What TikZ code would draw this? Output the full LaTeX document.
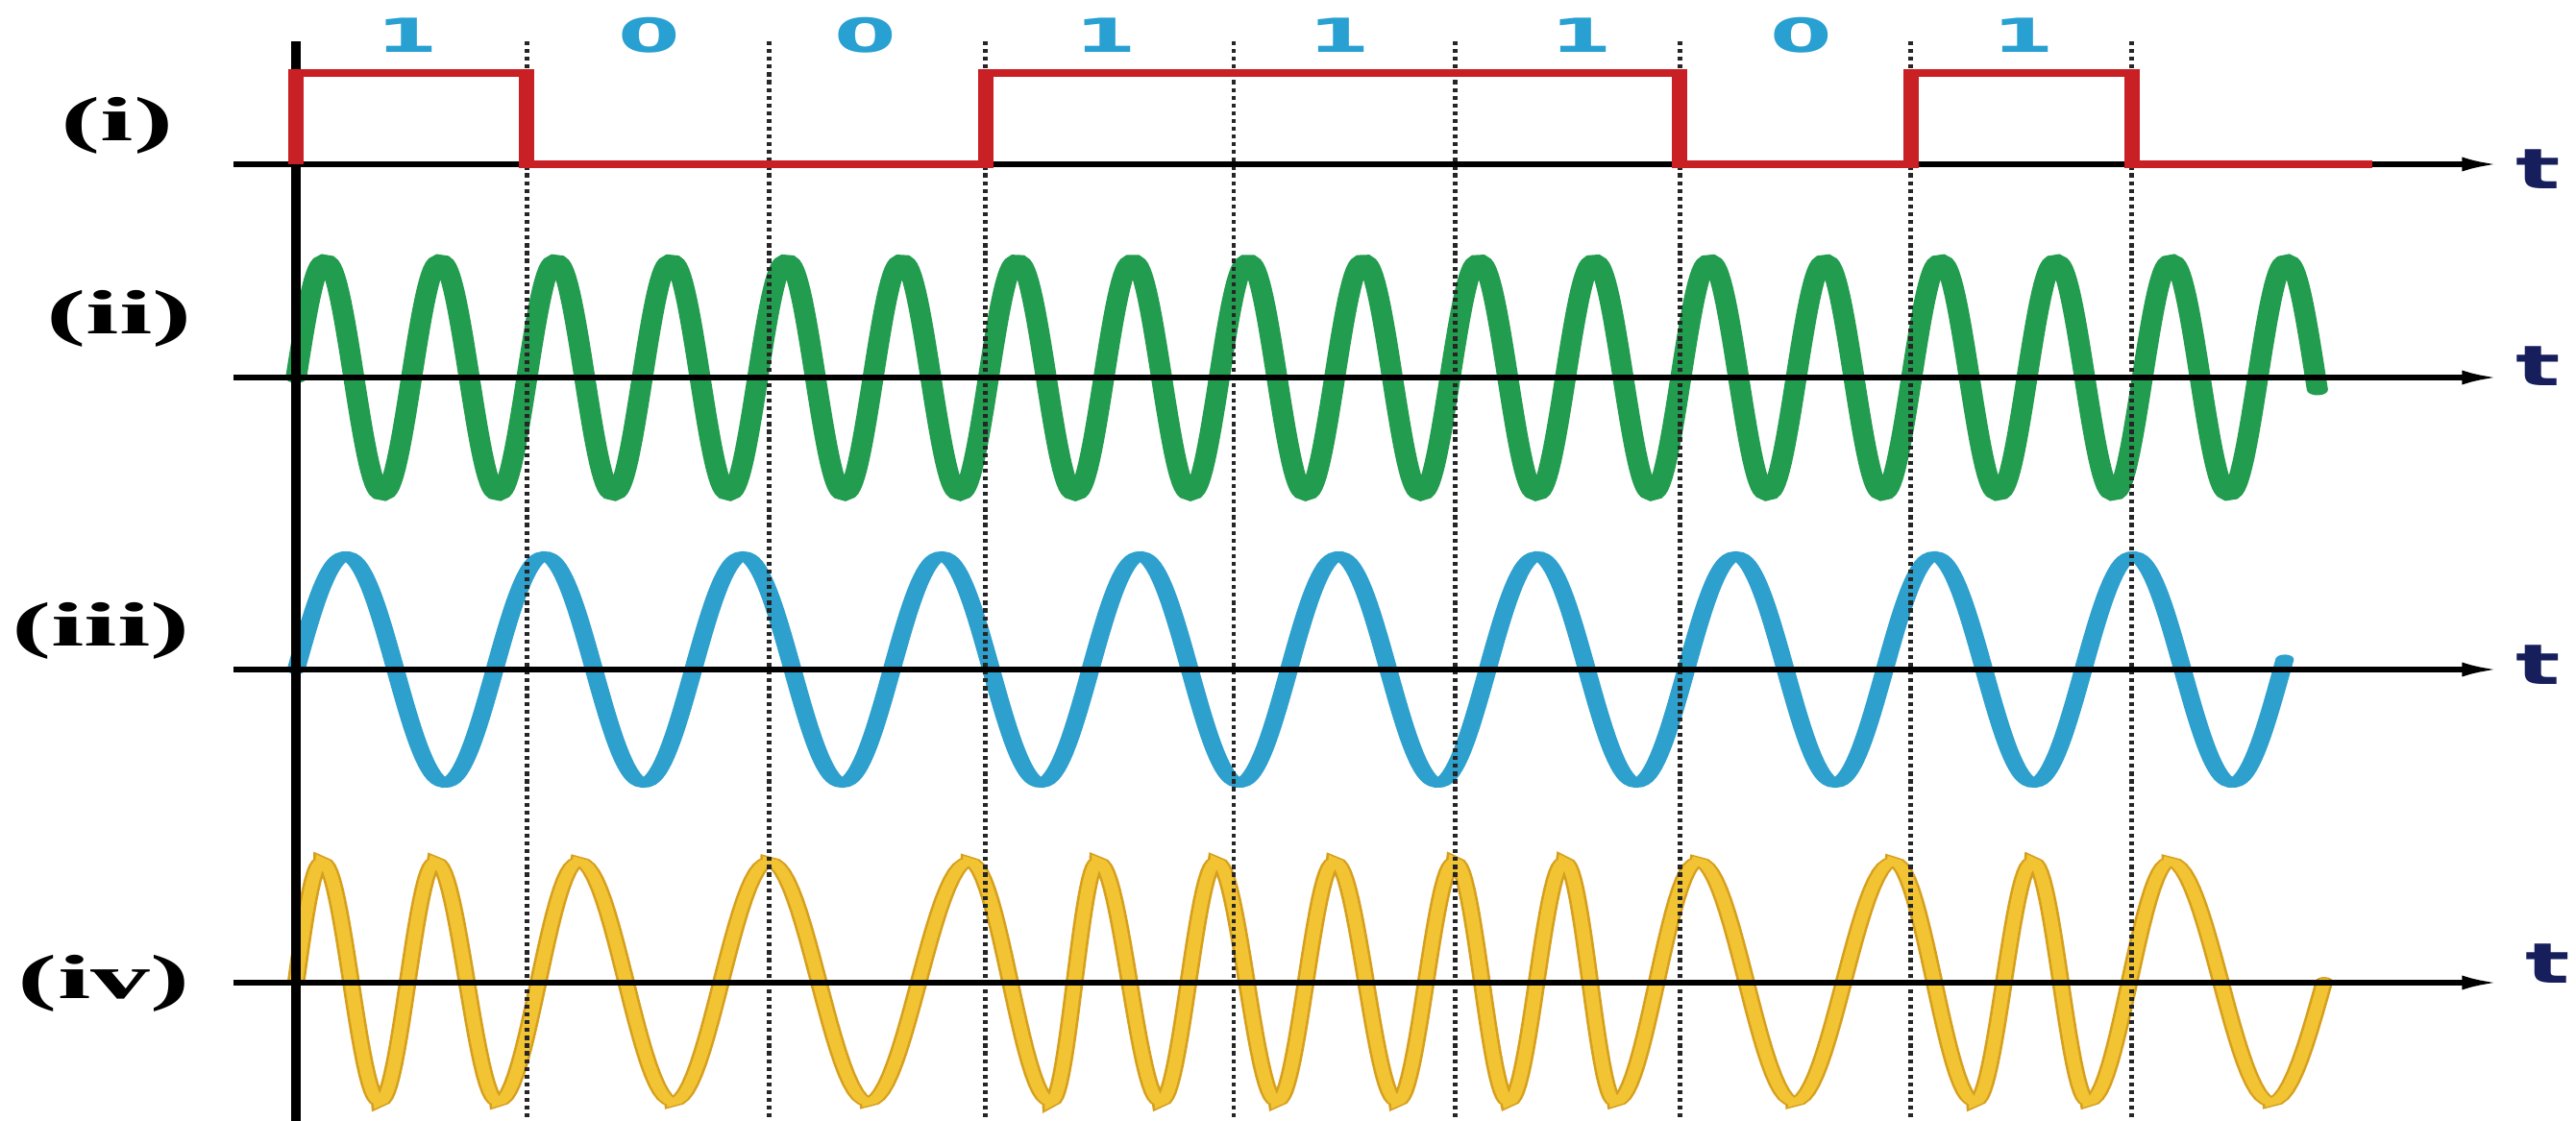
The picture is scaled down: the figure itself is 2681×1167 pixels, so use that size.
\documentclass[tikz,border=0pt]{standalone}
\usepackage{fontspec}
\setmainfont{Liberation Serif}
\newfontfamily\digitfont{DejaVu Sans}
\newfontfamily\tfont{DejaVu Sans}
\usetikzlibrary{arrows.meta}
\definecolor{redsig}{RGB}{200,32,36}
\definecolor{greensig}{RGB}{34,156,78}
\definecolor{bluesig}{RGB}{46,160,206}
\definecolor{yfill}{RGB}{242,196,52}
\definecolor{yedge}{RGB}{214,160,30}
\definecolor{bitcol}{RGB}{40,160,210}
\definecolor{tcol}{RGB}{22,30,92}
\tikzset{
  axisline/.style={line width=1.45pt, black},
  axisarrow/.style={line width=1.45pt, black, -{Latex[length=5.2pt,width=4.4pt]}},
  dotline/.style={line width=0.7pt, black!85, dash pattern=on 1.2pt off 1.1pt},
  redline/.style={line width=2.4pt, redsig, line join=miter},
  gwave/.style={line width=3.3pt, greensig, line cap=round},
  bwave/.style={line width=2.85pt, bluesig, line cap=round},
  ywave/.style={line width=0.4pt, draw=yedge, double=yfill, double distance=2.0pt, line cap=round},
  rowlab/.style={font=\fontsize{18.5}{20}\selectfont\bfseries, text=black, inner sep=0pt},
  bitlab/.style={font=\digitfont\fontsize{13.9}{15}\selectfont\bfseries, text=bitcol, inner sep=0pt},
  tlab/.style={font=\tfont\fontsize{16.5}{18}\selectfont\bfseries, text=tcol, inner sep=0pt}
}
\newcommand{\tmark}{\scalebox{0.88}[1]{t}}
\begin{document}
\begin{tikzpicture}[x=0.01cm,y=-0.01cm]
\useasboundingbox (0,0) rectangle (2681,1167);
\fill[white] (0,0) rectangle (2681,1167);
\begin{scope}[x=0.0052632cm, transform canvas={xscale=1.9}]
  % coordinates of axes
  \coordinate (vtop) at (308,43);
  \coordinate (vbot) at (308,1167);
  \coordinate (a1s) at (243,171);  \coordinate (a1e) at (2595,171);
  \coordinate (a2s) at (243,393);  \coordinate (a2e) at (2595,393);
  \coordinate (a3s) at (243,697);  \coordinate (a3e) at (2595,697);
  \coordinate (a4s) at (243,1023); \coordinate (a4e) at (2595,1023);

  % green carrier (ii)
  \draw[gwave] plot[domain=308:2410, samples=1000] (\x, {393-122*sin(3*(\x-308))});
  % blue carrier (iii)
  \draw[bwave] plot[domain=308:2376, samples=700] (\x, {697-118*sin(1.7433*(\x-308))});
  % yellow FSK (iv)
  \draw[ywave] plot[domain=308:335, samples=12] (\x, {1022-125*sin(90*(\x-308)/27)})
    \foreach \a/\b/\s in {335/395/1, 395/453/-1, 453/518/1, 518/602/-1, 602/700/1,
      700/800/-1, 800/903/1, 903/1008/-1, 1008/1093/1, 1093/1142/-1, 1142/1207/1,
      1207/1265/-1, 1265/1328/1, 1328/1388/-1, 1388/1453/1, 1453/1513/-1, 1513/1569/1,
      1569/1627/-1, 1627/1680/1, 1680/1766/-1, 1766/1866/1, 1866/1969/-1, 1969/2054/1,
      2054/2114/-1, 2114/2172/1, 2172/2257/-1, 2257/2362/1}
      { -- plot[domain=\a:\b, samples=24] (\x, {1022-125*\s*cos((\x-\a)/(\b-\a)*180)}) }
    -- plot[domain=2362:2417, samples=12] (\x, {1022+125*cos((\x-2362)/55*90)});

  % bit boundaries
  \foreach \xx in {548,800,1025,1283,1513,1747,1987,2217}
    \draw[dotline] (\xx,43) -- (\xx,1167);

  % axes
  \draw[axisline] (vtop) -- (vbot);
  \draw[axisarrow] (a1s) -- (a1e);
  \draw[axisarrow] (a2s) -- (a2e);
  \draw[axisarrow] (a3s) -- (a3e);
  \draw[axisarrow] (a4s) -- (a4e);

  % data signal (i)
  \draw[redline] (308,171) -- (308,76) -- (548,76) -- (548,171) -- (1025,171)
    -- (1025,76) -- (1747,76) -- (1747,171) -- (1987,171) -- (1987,76)
    -- (2217,76) -- (2217,171) -- (2467,171);

  % bit labels
  \node[bitlab] (bit1) at (423,37) {1};
  \node[bitlab] (bit2) at (675,37) {0};
  \node[bitlab] (bit3) at (900,37) {0};
  \node[bitlab] (bit4) at (1150,37) {1};
  \node[bitlab] (bit5) at (1393,37) {1};
  \node[bitlab] (bit6) at (1645,37) {1};
  \node[bitlab] (bit7) at (1873,37) {0};
  \node[bitlab] (bit8) at (2104,37) {1};

  % row labels
  \node[rowlab] (li) at (122,131) {(i)};
  \node[rowlab] (lii) at (124,332) {(ii)};
  \node[rowlab] (liii) at (105,657) {(iii)};
  \node[rowlab] (liv) at (108,1024) {(iv)};

  % t labels
  \node[tlab] (t1) at (2640,176) {\tmark};
  \node[tlab] (t2) at (2640,381) {\tmark};
  \node[tlab] (t3) at (2640,692) {\tmark};
  \node[tlab] (t4) at (2650,1003) {\tmark};
\end{scope}
\end{tikzpicture}
\end{document}
